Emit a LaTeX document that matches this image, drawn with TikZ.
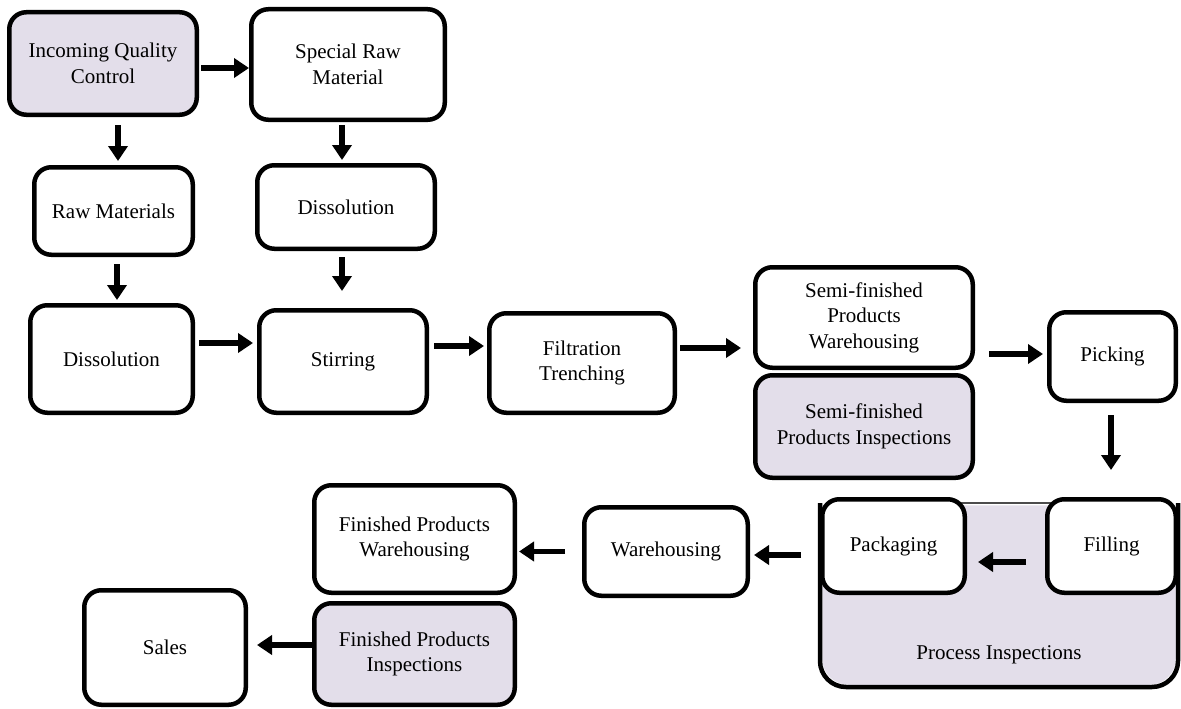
\documentclass[tikz,border=0pt]{standalone}
\usepackage{fontspec}
\setmainfont{Liberation Serif}
\usetikzlibrary{arrows.meta,positioning,calc}
\definecolor{mlav}{HTML}{E3DEEA}
\tikzstyle{box}=[rectangle, rounded corners=17pt, draw=black, fill=white, line width=4.5pt, align=center, inner sep=2pt, font=\fontsize{21}{25.5}\selectfont]
\tikzstyle{insp}=[box, fill=mlav]
\tikzstyle{txt}=[font=\fontsize{21}{25.5}\selectfont]
\tikzstyle{edge}=[line width=4.5pt, rounded corners=26pt]
\tikzstyle{l1}=[line width=5.5pt, -{Triangle[width=19pt,length=15pt]}]

\begin{document}
\begin{tikzpicture}[x=1pt,y=-1pt]
    \useasboundingbox (0,0) rectangle (1181,709);
    \node[insp, minimum width=187.5pt, minimum height=102.5pt] (a) at (103, 63.5) {Incoming Quality\\Control};
    \node[box,  minimum width=193.5pt, minimum height=110.5pt] (b) at (348, 64.5) {Special Raw\\Material};
    \node[box,  minimum width=158.5pt, minimum height=87.5pt]  (c) at (113.5, 211) {Raw Materials};
    \node[box,  minimum width=177.5pt, minimum height=83.5pt]  (d) at (346, 207) {Dissolution};
    \node[box,  minimum width=162.5pt, minimum height=107.5pt] (e) at (111.5, 359) {Dissolution};
    \node[box,  minimum width=167.5pt, minimum height=102.5pt] (f) at (343, 361.5) {Stirring};
    \node[box,  minimum width=185.5pt, minimum height=99.5pt]  (g) at (582, 363) {Filtration\\Trenching};
    \node[box,  minimum width=217.5pt, minimum height=100.5pt] (h) at (864, 317.5) {Semi-finished\\Products\\Warehousing};
    \node[insp, minimum width=217.5pt, minimum height=102.5pt] (i) at (864, 426.5) {Semi-finished\\Products Inspections};
    \node[box,  minimum width=126.5pt, minimum height=88.5pt]  (j) at (1112.5, 356.5) {Picking};

    \node[insp, draw=none, rounded corners=26pt, minimum width=353.5pt, minimum height=179.5pt] (k) at (999, 595) {};
    \draw[edge] (k.north west) -- (k.south west) -- (k.south east) -- (k.north east);
    \draw[line width=1.5pt, color=black!70] ([xshift=20pt]k.north west) -- ([xshift=-20pt]k.north east);
    \node[txt] (k1) at (999, 655) {Process Inspections};
    \node[box,  minimum width=142.5pt, minimum height=93.5pt]  (l) at (893.5, 546) {Packaging};
    \node[box,  minimum width=128.5pt, minimum height=93.5pt]  (m) at (1111.5, 546) {Filling};

    \node[box,  minimum width=163.5pt, minimum height=88.5pt]  (n) at (666, 551.5) {Warehousing};
    \node[box,  minimum width=200.5pt, minimum height=107.5pt] (o) at (414.5, 539) {Finished Products\\Warehousing};
    \node[insp, minimum width=200.5pt, minimum height=101.5pt] (p) at (414.5, 654) {Finished Products\\Inspections};
    \node[box,  minimum width=161.5pt, minimum height=114.5pt] (q) at (165, 647.5) {Sales};

    \draw[l1, shorten <=2pt] ([yshift=-4.5pt]a.east) -- ([yshift=-4.5pt]a.east -| b.west);
    \draw[l1, shorten <=8pt, shorten >=4pt] ([xshift=15pt]a.south) -- ([xshift=15pt]a.south |- c.north);
    \draw[l1, shorten <=3pt, shorten >=3pt] ([xshift=-6pt]b.south) -- ([xshift=-6pt]b.south |- d.north);
    \draw[l1, shorten <=7pt, shorten >=3pt] ([xshift=3.5pt]c.south) -- ([xshift=3.5pt]c.south |- e.north);
    \draw[l1, shorten <=6pt, shorten >=17pt] ([xshift=-4pt]d.south) -- ([xshift=-4pt]d.south |- f.north);
    \draw[l1, shorten <=4pt, shorten >=4pt] ([yshift=16pt]e.east) -- ([yshift=16pt]e.east -| f.west);
    \draw[l1, shorten <=5pt, shorten >=3pt] ([yshift=15.5pt]f.east) -- ([yshift=15.5pt]f.east -| g.west);
    \draw[l1, shorten <=3pt, shorten >=12pt] ([yshift=15pt]g.east) -- ([yshift=15pt]g.east -| h.west);
    \draw[l1, shorten <=14pt, shorten >=4pt] ([yshift=-36.5pt]h.east) -- ([yshift=-36.5pt]h.east -| j.west);
    \draw[l1, shorten <=12pt, shorten >=27pt] ([xshift=-1.5pt]j.south) -- ([xshift=-1.5pt]j.south |- m.north);
    \draw[l1, shorten <=19pt, shorten >=11pt] ([yshift=-16pt]m.west) -- ([yshift=-16pt]m.west -| l.east);
    \draw[l1, shorten <=19pt, shorten >=4pt] ([yshift=-9pt]l.west) -- ([yshift=-9pt]l.west -| n.east);
    \draw[l1, shorten <=17pt, shorten >=2pt] (n.west) -- (n.west -| o.east);
    \draw[l1, shorten >=9pt] ([yshift=9pt]p.west) -- ([yshift=9pt]p.west -| q.east);
\end{tikzpicture}
\end{document}
